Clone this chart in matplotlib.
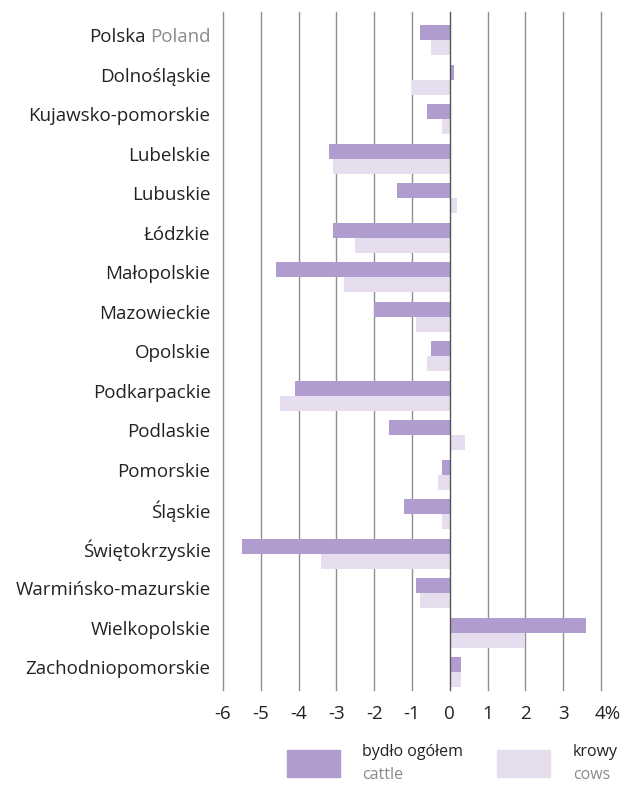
import matplotlib
matplotlib.use("Agg")
import matplotlib.pyplot as plt
import numpy as np
from matplotlib.patches import Rectangle
import matplotlib.transforms as mtransforms

plt.rcParams['font.family'] = ['Open Sans', 'DejaVu Sans']

regions = ["Polska", "Dolnośląskie", "Kujawsko-pomorskie", "Lubelskie", "Lubuskie",
           "Łódzkie", "Małopolskie", "Mazowieckie", "Opolskie", "Podkarpackie",
           "Podlaskie", "Pomorskie", "Śląskie", "Świętokrzyskie",
           "Warmińsko-mazurskie", "Wielkopolskie", "Zachodniopomorskie"]
cattle = [-0.8, 0.1, -0.6, -3.2, -1.4, -3.1, -4.6, -2.0, -0.5, -4.1, -1.6, -0.2,
          -1.2, -5.5, -0.9, 3.6, 0.3]
cows = [-0.5, -1.0, -0.2, -3.1, 0.2, -2.5, -2.8, -0.9, -0.6, -4.5, 0.4, -0.3,
        -0.2, -3.4, -0.8, 2.0, 0.3]
xticks = [-6, -5, -4, -3, -2, -1, 0, 1, 2, 3, 4]
xticklabels = ["-6", "-5", "-4", "-3", "-2", "-1", "0", "1", "2", "3", "4%"]
series_pl = ["bydło ogółem", "krowy"]
series_en = ["cattle", "cows"]

c_cattle = "#b09ccf"
c_cows = "#e6ddef"

W, H = 624, 785
fig = plt.figure(figsize=(W/100, H/100), dpi=100)
ax = fig.add_axes([223/W, 1-690/H, (601-223)/W, (690-12)/H])

y = np.arange(len(regions))
h = 0.38
ax.barh(y - h/2, cattle, height=h, color=c_cattle, zorder=3)
ax.barh(y + h/2, cows, height=h, color=c_cows, zorder=3)

for xv in xticks:
    ax.axvline(xv, color="#555555" if xv == 0 else "#8f8f8f", lw=1.0,
               zorder=1 if xv != 0 else 4, clip_on=False)

ax.set_xlim(-6, 4)
ax.set_ylim(16.45, -0.71)
for s in ax.spines.values():
    s.set_visible(False)
ax.set_xticks(xticks)
ax.set_xticklabels(xticklabels, fontsize=13.5, color="#222222")
ax.tick_params(axis='x', length=0, pad=11)
ax.set_yticks([])
last = ax.get_xticklabels()[-1]
last.set_transform(last.get_transform() + mtransforms.ScaledTranslation(0.07, 0, fig.dpi_scale_trans))

fs = 13.5
renderer = fig.canvas.get_renderer()
up = 3 * 72 / 100
lab_tr = mtransforms.offset_copy(ax.transData, fig=fig, x=0, y=up, units='points')
for i, r in enumerate(regions):
    if i == 0:
        t2 = ax.text(-6.33, i, "Poland", ha='right', va='center', fontsize=fs, color="#8a8a8a",
                     transform=lab_tr)
        wpx = t2.get_window_extent(renderer).width
        offp = mtransforms.offset_copy(ax.transData, fig=fig, x=-(wpx + 4.5) * 72 / 100, y=up, units='points')
        ax.text(-6.33, i, "Polska", ha='right', va='center', fontsize=fs, color="#222222", transform=offp)
    else:
        ax.text(-6.33, i, r, ha='right', va='center', fontsize=fs, color="#222222", transform=lab_tr)

# legend
def fx(px): return px / W
def fy(py): return 1 - py / H
fig.patches.append(Rectangle((fx(287), fy(777)), 53/W, 27/H, transform=fig.transFigure,
                             color=c_cattle, figure=fig))
fig.patches.append(Rectangle((fx(497), fy(777)), 53/W, 27/H, transform=fig.transFigure,
                             color=c_cows, figure=fig))
fig.text(fx(362), fy(752), series_pl[0], ha='left', va='center', fontsize=11.5, color="#222222")
fig.text(fx(362), fy(775), series_en[0], ha='left', va='center', fontsize=11.5, color="#8a8a8a")
fig.text(fx(573), fy(752), series_pl[1], ha='left', va='center', fontsize=11.5, color="#222222")
fig.text(fx(573), fy(775), series_en[1], ha='left', va='center', fontsize=11.5, color="#8a8a8a")

fig.savefig("out.png", dpi=100, facecolor="white")
